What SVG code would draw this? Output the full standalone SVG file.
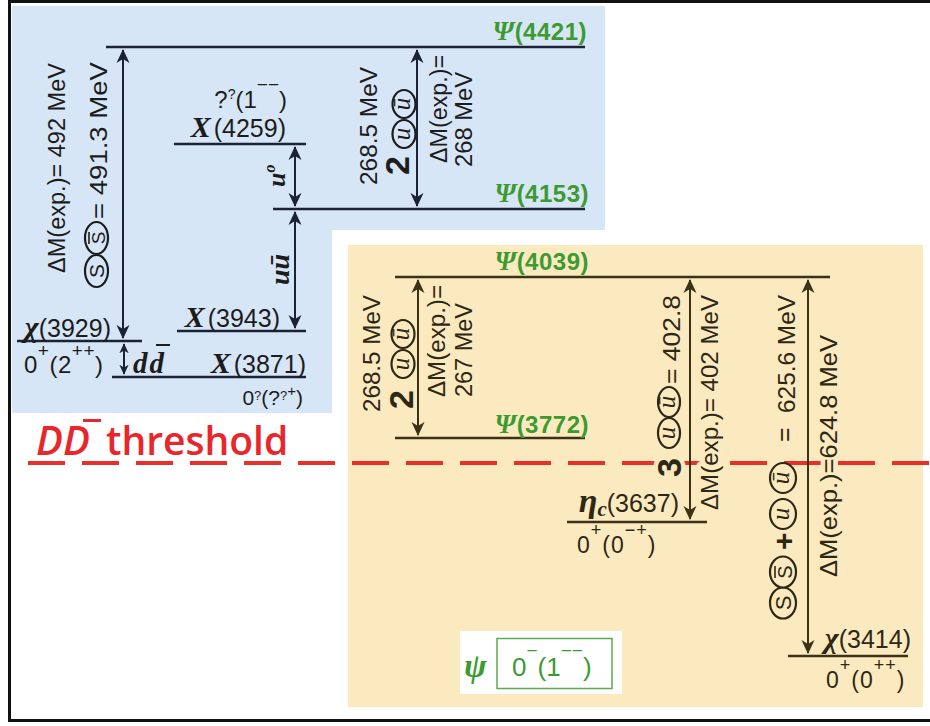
<svg xmlns="http://www.w3.org/2000/svg" width="930" height="726" viewBox="0 0 930 726">
<style>
.t{font-family:"Liberation Sans",Arial,sans-serif;fill:#1c1c1c}
.ty{font-family:"Liberation Sans",Arial,sans-serif;fill:#2e2714}
.sx{font-family:"Liberation Serif","Times New Roman",serif;font-style:italic;font-weight:bold}
.g{font-family:"Liberation Sans",Arial,sans-serif;fill:#3c9a31;font-weight:bold}
.lb{stroke:#1b2236;stroke-width:2.5}
.ly{stroke:#3b3116;stroke-width:2.5}
.ab{stroke:#1b2236;stroke-width:2;fill:none;marker-start:url(#mb);marker-end:url(#mb)}
.abs{stroke:#1b2236;stroke-width:2;fill:none;marker-start:url(#mbs);marker-end:url(#mbs)}
.ay{stroke:#3b3116;stroke-width:2;fill:none;marker-start:url(#my);marker-end:url(#my)}
.cb{fill:#d7e6f6;stroke:#1c1c1c;stroke-width:2.2}
.cy{fill:#fbeac0;stroke:#2e2714;stroke-width:2.2}
.hy{stroke:#fbeac0;stroke-width:9;paint-order:stroke;stroke-linejoin:round}
.cu{font-family:"Liberation Serif",serif;font-style:italic;font-size:25px}
</style>
<defs>
<marker id="mb" viewBox="0 0 14 14" refX="13" refY="7" markerWidth="14" markerHeight="14" markerUnits="userSpaceOnUse" orient="auto-start-reverse"><path d="M0,0.5 L14,7 L0,13.5 L4,7 Z" fill="#1b2236"/></marker>
<marker id="mbs" viewBox="0 0 14 14" refX="13" refY="7" markerWidth="10" markerHeight="10" markerUnits="userSpaceOnUse" orient="auto-start-reverse"><path d="M0,0.5 L14,7 L0,13.5 L4,7 Z" fill="#1b2236"/></marker>
<marker id="my" viewBox="0 0 14 14" refX="13" refY="7" markerWidth="14" markerHeight="14" markerUnits="userSpaceOnUse" orient="auto-start-reverse"><path d="M0,0.5 L14,7 L0,13.5 L4,7 Z" fill="#3b3116"/></marker>
</defs>

<rect width="930" height="726" fill="#ffffff"/>
<g id="panels">
<path d="M12,6 H605 V230 H332 V413 H12 Z" fill="#d7e6f6"/>
<rect x="348" y="245" width="575" height="462" fill="#fbeac0"/>
</g>

<g id="threshold">
<line x1="28" y1="463" x2="930" y2="463" stroke="#e8302a" stroke-width="4" stroke-dasharray="37 17"/>
<text x="36" y="455" font-family="'Open Sans','Liberation Sans',sans-serif" font-style="italic" font-weight="600" font-size="40" fill="#e8262b">DD</text>
<line x1="83" y1="420.5" x2="101" y2="420.5" stroke="#e8262b" stroke-width="3"/>
<text x="106" y="455" font-family="'Open Sans','Liberation Sans',sans-serif" font-weight="600" font-size="39" fill="#e8262b">threshold</text>
</g>

<g id="legend">
<rect x="460" y="631" width="162" height="63" fill="#ffffff"/>
<rect x="497" y="638.5" width="115" height="50" fill="none" stroke="#5aab4e" stroke-width="1.5"/>
<text x="464" y="677" class="sx" fill="#3c9a31" font-size="34">ψ</text>
<text x="512" y="676" font-family="'Liberation Sans',Arial,sans-serif" font-size="26" fill="#3c9a31">0<tspan font-size="19" dy="-19">−</tspan><tspan dy="19">(1</tspan><tspan font-size="19" dy="-19">−−</tspan><tspan dy="19">)</tspan></text>
</g>

<g id="psi4421">
<line class="lb" x1="106" y1="47" x2="585" y2="47"/>
<text class="g" x="587" y="40" text-anchor="end" font-size="24" letter-spacing="0.5"><tspan class="sx" font-size="27">Ψ</tspan>(4421)</text>
</g>
<g id="psi4153">
<line class="lb" x1="273" y1="209" x2="585" y2="209"/>
<text class="g" x="589" y="202" text-anchor="end" font-size="24" letter-spacing="0.5"><tspan class="sx" font-size="27">Ψ</tspan>(4153)</text>
</g>
<g id="x4259">
<line class="lb" x1="174" y1="144" x2="306" y2="144"/>
<text class="t" x="287" y="108" text-anchor="end" font-size="24">?<tspan font-size="14" dy="-9">?</tspan><tspan dy="9">(1</tspan><tspan font-size="19" dy="-17">−−</tspan><tspan dy="17">)</tspan></text>
<text class="t" x="286" y="137" text-anchor="end" font-size="25"><tspan class="sx" font-size="30">X</tspan><tspan dx="3">(4259)</tspan></text>
</g>
<g id="x3943">
<line class="lb" x1="177" y1="331" x2="306" y2="331"/>
<text class="t" x="280" y="327" text-anchor="end" font-size="25"><tspan class="sx" font-size="30">X</tspan><tspan dx="3">(3943)</tspan></text>
</g>
<g id="chi3929">
<line class="lb" x1="17" y1="341" x2="142" y2="341"/>
<text class="t" x="111" y="337" text-anchor="end" font-size="25"><tspan class="sx" font-size="30" font-weight="normal">χ</tspan>(3929)</text>
<text class="t" x="24" y="373" font-size="24" letter-spacing="0.5">0<tspan font-size="19" dy="-16">+</tspan><tspan dy="16">(2</tspan><tspan font-size="19" dy="-16">++</tspan><tspan dy="16">)</tspan></text>
</g>
<g id="x3871">
<line class="lb" x1="112" y1="377" x2="306" y2="377"/>
<text class="t" x="306" y="373" text-anchor="end" font-size="25"><tspan class="sx" font-size="30">X</tspan><tspan dx="3">(3871)</tspan></text>
<text class="t" x="303" y="405" text-anchor="end" font-size="21">0<tspan font-size="13" dy="-5">?</tspan><tspan dy="5">(?</tspan><tspan font-size="13" dy="-5">?</tspan><tspan font-size="15" dy="-4">+</tspan><tspan dy="9">)</tspan></text>
</g>
<g id="psi4039">
<line class="ly" x1="395" y1="277" x2="830" y2="277"/>
<text class="g" x="589" y="270" text-anchor="end" font-size="24" letter-spacing="0.5"><tspan class="sx" font-size="27">Ψ</tspan>(4039)</text>
</g>
<g id="psi3772">
<line class="ly" x1="395" y1="438" x2="585" y2="438"/>
<text class="g" x="589" y="433" text-anchor="end" font-size="24" letter-spacing="0.5"><tspan class="sx" font-size="27">Ψ</tspan>(3772)</text>
</g>
<g id="etac3637">
<line class="ly" x1="567" y1="522" x2="707" y2="522"/>
<text class="ty" x="679" y="512" text-anchor="end" font-size="25"><tspan class="sx" font-size="34">η</tspan><tspan class="sx" font-size="21" dy="4">c</tspan><tspan dy="-4">(3637)</tspan></text>
<text class="ty" x="577" y="553" font-size="23" letter-spacing="1">0<tspan font-size="18" dy="-17">+</tspan><tspan dy="17">(0</tspan><tspan font-size="18" dy="-17">−+</tspan><tspan dy="17">)</tspan></text>
</g>
<g id="chi3414">
<line class="ly" x1="788" y1="656" x2="908" y2="656"/>
<text class="ty" x="911" y="648" text-anchor="end" font-size="25"><tspan class="sx" font-size="30" font-weight="normal">χ</tspan>(3414)</text>
<text class="ty" x="826" y="688" font-size="23" letter-spacing="1">0<tspan font-size="18" dy="-17">+</tspan><tspan dy="17">(0</tspan><tspan font-size="18" dy="-17">++</tspan><tspan dy="17">)</tspan></text>
</g>

<g id="connectors">
<line class="ab" x1="123" y1="50" x2="123" y2="338"/>
<line class="ab" x1="295" y1="147" x2="295" y2="206"/>
<line class="ab" x1="295" y1="212" x2="295" y2="328"/>
<line class="abs" x1="124" y1="344" x2="124" y2="374"/>
<line class="ab" x1="417" y1="50" x2="417" y2="206"/>
<line class="ay" x1="418" y1="280" x2="418" y2="435"/>
<line class="ay" x1="690" y1="280" x2="690" y2="519"/>
<line class="ay" x1="808" y1="280" x2="808" y2="653"/>

<g id="lbl-ss">
<g transform="translate(65,273) rotate(-90)"><text class="t" font-size="23" textLength="210" lengthAdjust="spacingAndGlyphs">ΔM(exp.)= 492 MeV</text></g>
<ellipse class="cb" cx="96.5" cy="271" rx="11.5" ry="16"/>
<ellipse class="cb" cx="96.5" cy="238" rx="11.5" ry="16"/>
<g transform="translate(104,271) rotate(-90)"><text class="t" font-size="21" text-anchor="middle">S</text></g>
<g transform="translate(105,238) rotate(-90)"><text class="t" font-size="19" text-anchor="middle">S</text><line x1="-6" y1="-16" x2="6" y2="-16" stroke="#1c1c1c" stroke-width="1.6"/></g>
<g transform="translate(107,219) rotate(-90)"><text class="t" font-size="23" textLength="157" lengthAdjust="spacingAndGlyphs">= 491.3 MeV</text></g>
</g>
<g id="lbl-u0"><g transform="translate(285,187) rotate(-90)"><text class="sx t" font-size="26">u<tspan font-size="16" dy="-10">o</tspan></text></g></g>
<g id="lbl-uu"><g transform="translate(289,285) rotate(-90)"><text class="sx t" font-size="28">uū</text></g></g>
<text class="sx t" x="133" y="373" font-size="29" letter-spacing="2">dd</text>
<line x1="156" y1="345" x2="170" y2="345" stroke="#1c1c1c" stroke-width="2"/>

<g id="lbl-top">
<g transform="translate(377,185) rotate(-90)"><text class="t" font-size="23" textLength="118" lengthAdjust="spacingAndGlyphs">268.5 MeV</text></g>
<g transform="translate(409,175) rotate(-90)"><text class="t" font-size="34" font-weight="bold">2</text></g>
<ellipse class="cb" cx="404" cy="134" rx="11.5" ry="14"/>
<ellipse class="cb" cx="404" cy="104" rx="11.5" ry="14"/>
<g transform="translate(404,134) rotate(-90)"><text class="cu t" text-anchor="middle" y="6">u</text></g>
<g transform="translate(404,104) rotate(-90)"><text class="cu t" text-anchor="middle" y="6">ū</text></g>
<g transform="translate(447,163) rotate(-90)"><text class="t" font-size="23" textLength="108" lengthAdjust="spacingAndGlyphs">ΔM(exp.)=</text></g>
<g transform="translate(472,167) rotate(-90)"><text class="t" font-size="23" textLength="95" lengthAdjust="spacingAndGlyphs">268 MeV</text></g>
</g>

<g id="lbl-mid">
<g transform="translate(380,412) rotate(-90)"><text class="ty" font-size="23" textLength="117" lengthAdjust="spacingAndGlyphs">268.5 MeV</text></g>
<g transform="translate(413,409) rotate(-90)"><text class="ty" font-size="34" font-weight="bold">2</text></g>
<ellipse class="cy" cx="403" cy="364" rx="11.5" ry="14"/>
<ellipse class="cy" cx="403" cy="334" rx="11.5" ry="14"/>
<g transform="translate(403,364) rotate(-90)"><text class="cu ty" text-anchor="middle" y="6">u</text></g>
<g transform="translate(403,334) rotate(-90)"><text class="cu ty" text-anchor="middle" y="6">ū</text></g>
<g transform="translate(445,397) rotate(-90)"><text class="ty" font-size="23" textLength="112" lengthAdjust="spacingAndGlyphs">ΔM(exp.)=</text></g>
<g transform="translate(472,397) rotate(-90)"><text class="ty" font-size="23" textLength="94" lengthAdjust="spacingAndGlyphs">267 MeV</text></g>
</g>

<g id="lbl-3u">
<g transform="translate(681,477) rotate(-90)"><text class="ty hy" font-size="34" font-weight="bold">3</text></g>
<ellipse class="cy" cx="669" cy="433" rx="11" ry="15"/>
<ellipse class="cy" cx="669" cy="402" rx="11" ry="15"/>
<g transform="translate(669,433) rotate(-90)"><text class="cu ty" text-anchor="middle" y="6">u</text></g>
<g transform="translate(669,402) rotate(-90)"><text class="cu ty" text-anchor="middle" y="6">ū</text></g>
<g transform="translate(680,384) rotate(-90)"><text class="ty" font-size="24" textLength="89" lengthAdjust="spacingAndGlyphs">= 402.8</text></g>
<g transform="translate(718,510) rotate(-90)"><text class="ty hy" font-size="24" textLength="215" lengthAdjust="spacingAndGlyphs">ΔM(exp.)= 402 MeV</text></g>
</g>

<g id="lbl-ssuu">
<ellipse class="cy" cx="783" cy="603" rx="13" ry="15.5"/>
<ellipse class="cy" cx="783" cy="572" rx="13" ry="15.5"/>
<g transform="translate(791,603) rotate(-90)"><text class="ty" font-size="22" text-anchor="middle">S</text></g>
<g transform="translate(792,572) rotate(-90)"><text class="ty" font-size="20" text-anchor="middle">S</text><line x1="-6" y1="-17" x2="6" y2="-17" stroke="#2e2714" stroke-width="1.6"/></g>
<g transform="translate(794,550) rotate(-90)"><text class="ty" font-size="30" font-weight="bold">+</text></g>
<ellipse class="cy" cx="783" cy="514" rx="13" ry="15"/>
<ellipse class="cy" cx="783" cy="478" rx="13" ry="15"/>
<g transform="translate(783,514) rotate(-90)"><text class="cu ty" text-anchor="middle" y="6" font-size="27">u</text></g>
<g transform="translate(783,478) rotate(-90)"><text class="cu ty" text-anchor="middle" y="6" font-size="27">ū</text></g>
<g transform="translate(793,442) rotate(-90)"><text class="ty" font-size="25">=</text></g>
<g transform="translate(795,413) rotate(-90)"><text class="ty" font-size="24" textLength="118" lengthAdjust="spacingAndGlyphs">625.6 MeV</text></g>
<g transform="translate(837,577) rotate(-90)"><text class="ty hy" font-size="24" textLength="242" lengthAdjust="spacingAndGlyphs">ΔM(exp.)=624.8 MeV</text></g>
</g>
</g>

<rect id="frame" x="9.5" y="1.5" width="930" height="719" fill="none" stroke="#111111" stroke-width="3"/>
</svg>
